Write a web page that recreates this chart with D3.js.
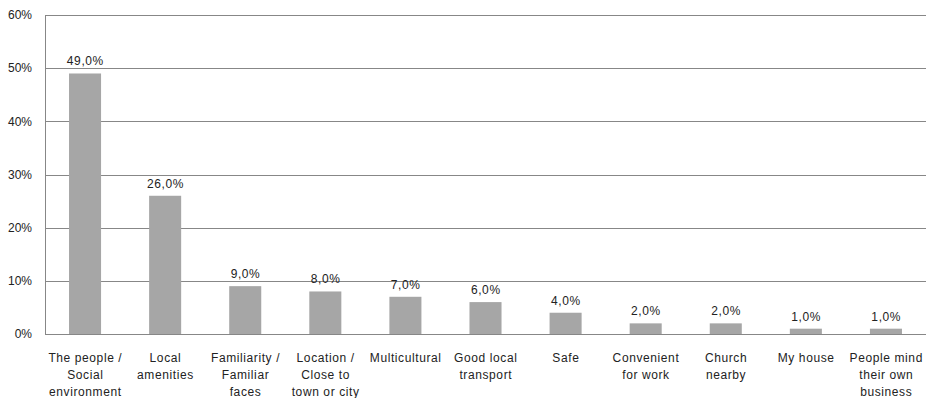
<!DOCTYPE html>
<html>
<head>
<meta charset="utf-8">
<script src="https://cdn.jsdelivr.net/npm/d3@7"></script>
<style>
  html, body { margin: 0; padding: 0; background: #fff; }
  svg { display: block; font-family: "Liberation Sans", Arial, sans-serif; }
</style>
</head>
<body>
<svg id="chart" width="928" height="398"></svg>
<script>
// Reasons people like their area (share of responses, %)
const categories = [
  "The people / Social environment",
  "Local amenities",
  "Familiarity / Familiar faces",
  "Location / Close to town or city",
  "Multicultural",
  "Good local transport",
  "Safe",
  "Convenient for work",
  "Church nearby",
  "My house",
  "People mind their own business"
];
// Category labels as they are wrapped under the axis
const categoryLines = [
  ["The people /", "Social", "environment"],
  ["Local", "amenities"],
  ["Familiarity /", "Familiar", "faces"],
  ["Location /", "Close to", "town or city"],
  ["Multicultural"],
  ["Good local", "transport"],
  ["Safe"],
  ["Convenient", "for work"],
  ["Church", "nearby"],
  ["My house"],
  ["People mind", "their own", "business"]
];
const values = [49, 26, 9, 8, 7, 6, 4, 2, 2, 1, 1];
const yTicks = [0, 10, 20, 30, 40, 50, 60];

const svg = d3.select("#chart");
const margin = { left: 45, right: 2, top: 15, bottom: 64 };
const W = 928, H = 398;
const fontSize = 12;
const spacing = 0.6;

const x = d3.scaleBand()
  .domain(categories)
  .range([margin.left, W - margin.right])
  .paddingInner(0.6)
  .paddingOuter(0.3);

const y = d3.scaleLinear()
  .domain([0, 60])
  .range([H - margin.bottom, margin.top]);

const cx = i => x(categories[i]) + x.bandwidth() / 2 + spacing / 2;

// horizontal gridlines
svg.append("g")
  .selectAll("line")
  .data(yTicks)
  .join("line")
  .attr("x1", margin.left)
  .attr("x2", W - margin.right)
  .attr("y1", d => Math.round(y(d)) + 0.5)
  .attr("y2", d => Math.round(y(d)) + 0.5)
  .attr("stroke", "#878787")
  .attr("stroke-width", 1);

// y-axis line
svg.append("line")
  .attr("x1", margin.left + 0.5)
  .attr("x2", margin.left + 0.5)
  .attr("y1", y(60))
  .attr("y2", y(0))
  .attr("stroke", "#878787");

// y tick labels
svg.append("g")
  .selectAll("text")
  .data(yTicks)
  .join("text")
  .attr("x", 32)
  .attr("y", d => y(d))
  .attr("dy", "0.35em")
  .attr("text-anchor", "end")
  .attr("font-size", fontSize)
  .attr("fill", "#222")
  .text(d => d + "%");

// bars
svg.append("g")
  .selectAll("rect")
  .data(values)
  .join("rect")
  .attr("x", (d, i) => x(categories[i]))
  .attr("width", x.bandwidth())
  .attr("y", d => y(d))
  .attr("height", d => y(0) - y(d))
  .attr("fill", "#a6a6a6");

// value labels
svg.append("g")
  .selectAll("text")
  .data(values)
  .join("text")
  .attr("x", (d, i) => cx(i))
  .attr("y", d => y(d) - 8)
  .attr("text-anchor", "middle")
  .attr("font-size", fontSize)
  .attr("letter-spacing", spacing)
  .attr("fill", "#222")
  .text(d => d.toFixed(1).replace(".", ",") + "%");

// category labels
const catG = svg.append("g")
  .selectAll("text")
  .data(categoryLines)
  .join("text")
  .attr("x", (d, i) => cx(i))
  .attr("y", 362)
  .attr("text-anchor", "middle")
  .attr("font-size", fontSize)
  .attr("letter-spacing", spacing)
  .attr("fill", "#222");
catG.selectAll("tspan")
  .data((d, i) => d.map(t => ({ t, c: cx(i) })))
  .join("tspan")
  .attr("x", d => d.c)
  .attr("dy", (d, j) => j === 0 ? 0 : 16.8)
  .text(d => d.t);
</script>
</body>
</html>
